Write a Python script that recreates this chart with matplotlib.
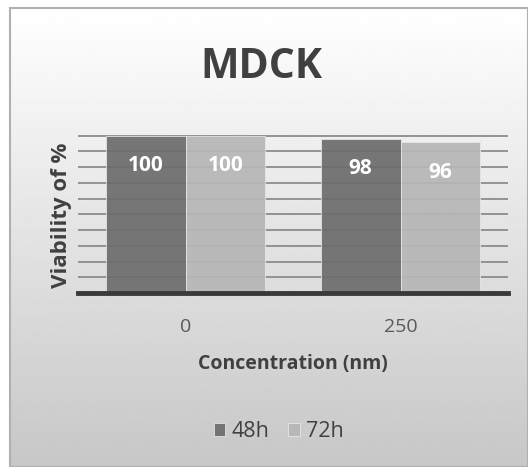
import matplotlib.pyplot as plt
import numpy as np
from matplotlib.patches import Rectangle

concentrations = ['0', '250']
series_names = ['48h', '72h']
viability_48h = [100, 98]
viability_72h = [100, 96]

plt.rcParams['font.family'] = ['Open Sans', 'DejaVu Sans']

W, H = 528, 467
fig = plt.figure(figsize=(W / 100, H / 100), dpi=100)

# background with chart frame + vertical gradient
bg = fig.add_axes([0, 0, 1, 1], zorder=0)
bg.set_xlim(0, W)
bg.set_ylim(H, 0)
bg.axis('off')
grad = np.linspace(1.0, 0.78, 256).reshape(-1, 1)
bg.imshow(grad, cmap='gray', vmin=0, vmax=1, extent=[10, W, H, 8], aspect='auto')
bg.add_patch(Rectangle((10, 8), W - 10, H - 8, fill=False, edgecolor='#b0b0b0', lw=1.5))

ax = fig.add_axes([78 / W, 1 - 293 / H, 430 / W, 173 / H], zorder=1)
ax.patch.set_alpha(0)

x = np.arange(len(concentrations))
bw = 0.372
b1 = ax.bar(x - bw / 2, viability_48h, bw, color='#6c6c6c', edgecolor='#e8e8e8', lw=0.6, alpha=0.92, zorder=2)
b2 = ax.bar(x + bw / 2, viability_72h, bw, color='#b6b6b6', edgecolor='#e8e8e8', lw=0.6, alpha=0.92, zorder=2)

for bars, vals in [(b1, viability_48h), (b2, viability_72h)]:
    for rect, v in zip(bars, vals):
        ax.annotate(str(v), (rect.get_x() + rect.get_width() / 2, v), xytext=(0, -30),
                    textcoords='offset pixels', ha='center', va='center',
                    color='white', fontsize=15, fontweight='bold', zorder=3)

ax.set_xlim(-0.5, 1.5)
ax.set_ylim(0, 110)
ax.set_yticks(range(10, 101, 10))
ax.yaxis.grid(True, color='#8c8c8c', lw=1.3, zorder=1)
ax.set_axisbelow(True)
ax.tick_params(axis='y', length=0, labelleft=False)
ax.tick_params(axis='x', length=0, pad=18, labelsize=14, labelcolor='#595959')
ax.set_xticks(x)
ax.set_xticklabels(concentrations)
for s in ['top', 'right', 'left']:
    ax.spines[s].set_visible(False)
ax.spines['bottom'].set_color('#3a3a3a')
ax.spines['bottom'].set_linewidth(3.5)

ax.set_xlabel('Concentration (nm)', fontsize=14, fontweight='bold', color='#404040', labelpad=13)
ax.set_ylabel('Viability of %', fontsize=16, fontweight='bold', color='#404040')
ax.yaxis.set_label_coords(-0.014, 0.45)

fig.text(0.496, 1 - 67 / H, 'MDCK', ha='center', va='center', fontsize=29.5,
         fontweight='bold', color='#404040')

leg = ax.legend([b1, b2], series_names, loc='center', bbox_to_anchor=(0.467, -0.80),
                ncol=2, frameon=False, fontsize=15.5, handlelength=0.55, handleheight=0.55,
                handletextpad=0.3, columnspacing=0.85)
for t in leg.get_texts():
    t.set_color('#404040')

fig.savefig('out.png', dpi=100)
